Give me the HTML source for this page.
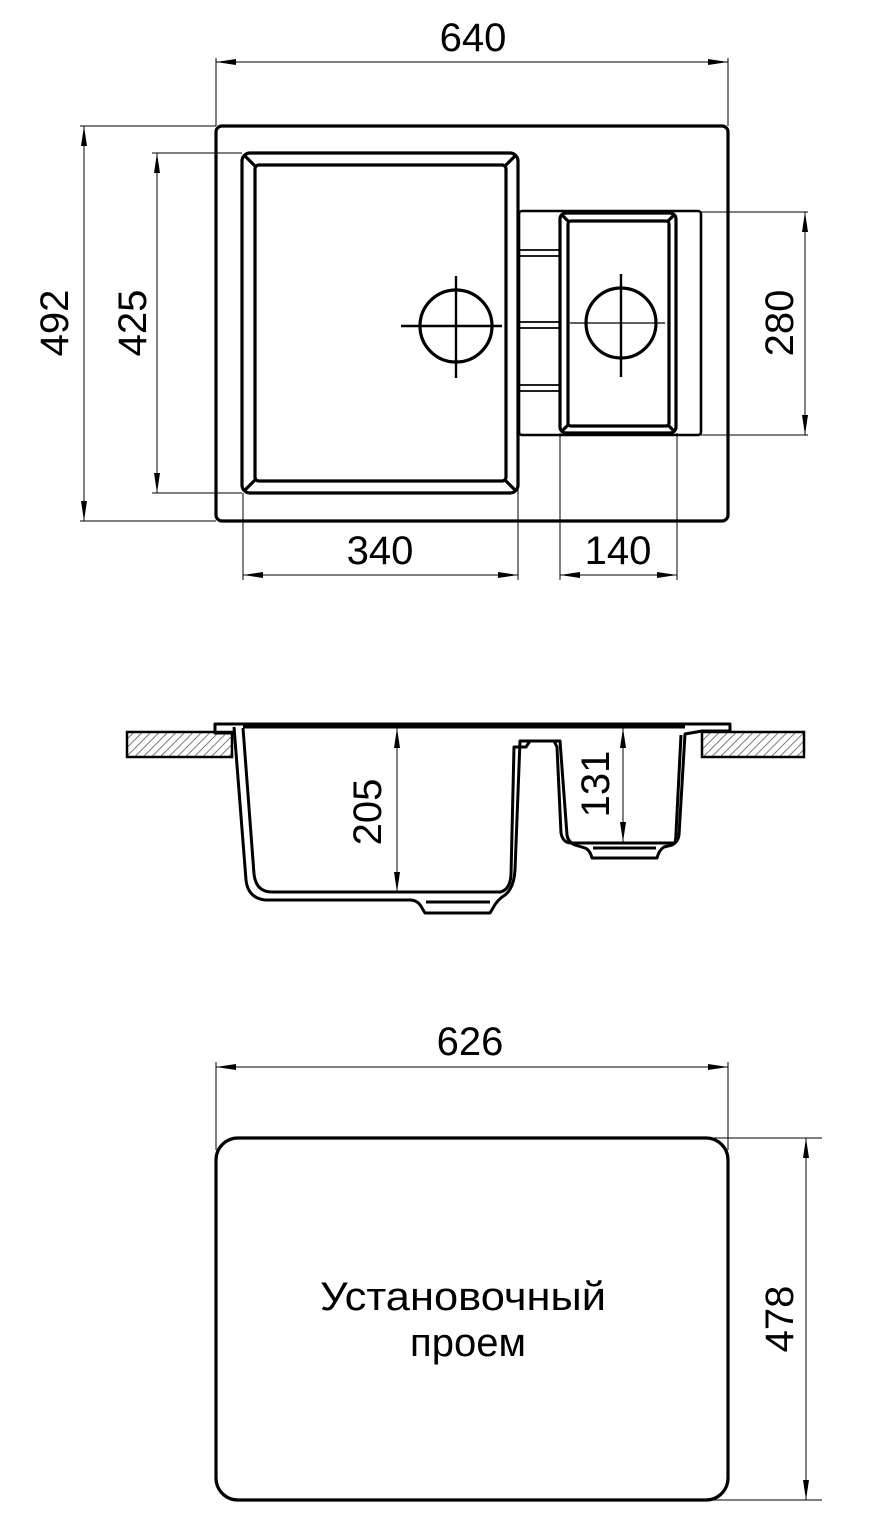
<!DOCTYPE html>
<html><head><meta charset="utf-8"><style>
html,body{margin:0;padding:0;background:#fff;}
svg{display:block;}
text{font-family:"Liberation Sans","DejaVu Sans",sans-serif;fill:#000;}
</style></head><body>
<svg width="881" height="1537" viewBox="0 0 881 1537" xmlns="http://www.w3.org/2000/svg">
<defs>
<marker id="a" viewBox="0 0 20 6" refX="20" refY="3" markerWidth="20" markerHeight="6" markerUnits="userSpaceOnUse" orient="auto-start-reverse"><path d="M0,0 L20,3 L0,6 Z" fill="#000"/></marker>
<pattern id="h" width="6" height="6" patternUnits="userSpaceOnUse" patternTransform="rotate(45)"><rect width="6" height="6" fill="#fff"/><line x1="0" y1="0" x2="0" y2="6" stroke="#555" stroke-width="1.6"/></pattern>
</defs>

<!-- ===== TOP VIEW ===== -->
<g fill="none" stroke="#000" stroke-width="1">
<line x1="216" y1="58" x2="216" y2="126"/><line x1="728" y1="58" x2="728" y2="126"/>
<line x1="216" y1="62" x2="728" y2="62" marker-start="url(#a)" marker-end="url(#a)"/>
<line x1="80" y1="126" x2="216" y2="126"/><line x1="80" y1="521" x2="216" y2="521"/>
<line x1="84" y1="126" x2="84" y2="521" marker-start="url(#a)" marker-end="url(#a)"/>
<line x1="152" y1="153" x2="242" y2="153"/><line x1="152" y1="493" x2="242" y2="493"/>
<line x1="157" y1="153" x2="157" y2="493" marker-start="url(#a)" marker-end="url(#a)"/>
<line x1="701" y1="212" x2="808" y2="212"/><line x1="701" y1="435" x2="808" y2="435"/>
<line x1="805" y1="212" x2="805" y2="435" marker-start="url(#a)" marker-end="url(#a)"/>
<line x1="243" y1="493" x2="243" y2="580"/><line x1="518" y1="435" x2="518" y2="580"/>
<line x1="243" y1="575" x2="518" y2="575" marker-start="url(#a)" marker-end="url(#a)"/>
<line x1="560" y1="433" x2="560" y2="580"/><line x1="677" y1="433" x2="677" y2="580"/>
<line x1="560" y1="575" x2="677" y2="575" marker-start="url(#a)" marker-end="url(#a)"/>
</g>
<text x="473" y="51" font-size="40" text-anchor="middle">640</text>
<text x="380" y="564" font-size="40" text-anchor="middle">340</text>
<text x="618" y="564" font-size="40" text-anchor="middle">140</text>
<text transform="translate(68,323) rotate(-90)" font-size="40" text-anchor="middle">492</text>
<text transform="translate(146,323) rotate(-90)" font-size="40" text-anchor="middle">425</text>
<text transform="translate(793,323) rotate(-90)" font-size="40" text-anchor="middle">280</text>

<g fill="none" stroke="#000" stroke-width="3.2">
<rect x="216" y="126" width="512" height="395" rx="6"/>
<rect x="519" y="211" width="182" height="224" rx="3" stroke-width="2.6"/>
<rect x="242" y="153" width="276" height="340" rx="8" fill="#fff"/>
<rect x="255" y="165" width="251" height="316" rx="4"/>
<rect x="560" y="213" width="116" height="220" rx="6" fill="#fff"/>
<rect x="568" y="221" width="101" height="205" rx="3"/>
<line x1="244" y1="155" x2="255" y2="166"/><line x1="516" y1="155" x2="505" y2="166"/>
<line x1="244" y1="491" x2="255" y2="480"/><line x1="516" y1="491" x2="505" y2="480"/>
<line x1="562" y1="215" x2="568" y2="221"/><line x1="674" y1="215" x2="668" y2="221"/>
<line x1="562" y1="431" x2="568" y2="425"/><line x1="674" y1="431" x2="668" y2="425"/>
<circle cx="456" cy="326" r="36"/>
<circle cx="621" cy="323" r="35"/>
</g>
<g stroke="#000" stroke-width="1.8">
<line x1="519" y1="250" x2="560" y2="250"/><line x1="519" y1="256" x2="560" y2="256"/>
<line x1="519" y1="322" x2="560" y2="322"/><line x1="519" y1="328" x2="560" y2="328"/>
<line x1="519" y1="385" x2="560" y2="385"/><line x1="519" y1="391" x2="560" y2="391"/>
</g>
<g stroke="#000" stroke-width="2.4">
<line x1="401" y1="326" x2="502" y2="326"/><line x1="456" y1="276" x2="456" y2="378"/>
<line x1="621" y1="274" x2="621" y2="377"/>
</g>
<line x1="570" y1="323" x2="665" y2="323" stroke="#000" stroke-width="1.2"/>

<!-- ===== SIDE VIEW ===== -->
<rect x="127" y="732" width="105" height="25" fill="url(#h)" stroke="#000" stroke-width="2.5"/>
<rect x="702" y="732" width="102" height="25" fill="url(#h)" stroke="#000" stroke-width="2.5"/>
<g fill="none" stroke="#000" stroke-width="3" stroke-linejoin="round">
<path d="M234,733 L215,733 L215,724 L730,724 L730,731 L702,731 L685,734 L679,835 Q678,842 672,845 L664,847 Q659,850 657,858 L592,858 Q590,850 585,848 L575,845 Q568,842 567,835 L560,741 L520,741 L515,870 Q514,888 505,895 Q497,900 493,908 L490,913 L425,913 L422,908 Q418,900 410,900 L265,900 Q248,898 246,880 L234,727"/>
<path d="M243,728 L254,874 Q256,892 272,892 L500,892 Q510,890 511,875 L514,747 L526,747 L530,741 M554,741 L557,747 L561,833 Q563,843 571,843 L675,843 Q676,838 676,833 L681,735"/>
<line x1="243" y1="727" x2="685" y2="727"/>
<line x1="426" y1="902" x2="490" y2="902"/><line x1="593" y1="848" x2="656" y2="848"/>
</g>
<g fill="none" stroke="#000" stroke-width="1">
<line x1="397" y1="728" x2="397" y2="892" marker-start="url(#a)" marker-end="url(#a)"/>
<line x1="623" y1="728" x2="623" y2="842" marker-start="url(#a)" marker-end="url(#a)"/>
</g>
<text transform="translate(381,812) rotate(-90)" font-size="40" text-anchor="middle">205</text>
<text transform="translate(609,784) rotate(-90)" font-size="40" text-anchor="middle">131</text>

<!-- ===== CUTOUT ===== -->
<g fill="none" stroke="#000" stroke-width="1">
<line x1="216" y1="1062" x2="216" y2="1150"/><line x1="728" y1="1062" x2="728" y2="1150"/>
<line x1="216" y1="1067" x2="728" y2="1067" marker-start="url(#a)" marker-end="url(#a)"/>
<line x1="700" y1="1138" x2="822" y2="1138"/><line x1="700" y1="1500" x2="822" y2="1500"/>
<line x1="806" y1="1138" x2="806" y2="1500" marker-start="url(#a)" marker-end="url(#a)"/>
</g>
<rect x="216" y="1138" width="512" height="362" rx="22" fill="none" stroke="#000" stroke-width="3.2"/>
<text x="470" y="1055" font-size="40" text-anchor="middle">626</text>
<text transform="translate(793,1319) rotate(-90)" font-size="40" text-anchor="middle">478</text>
<text x="463" y="1310" font-size="40" text-anchor="middle" textLength="286" lengthAdjust="spacingAndGlyphs">Установочный</text>
<text x="468" y="1356" font-size="40" text-anchor="middle">проем</text>
</svg>
</body></html>
